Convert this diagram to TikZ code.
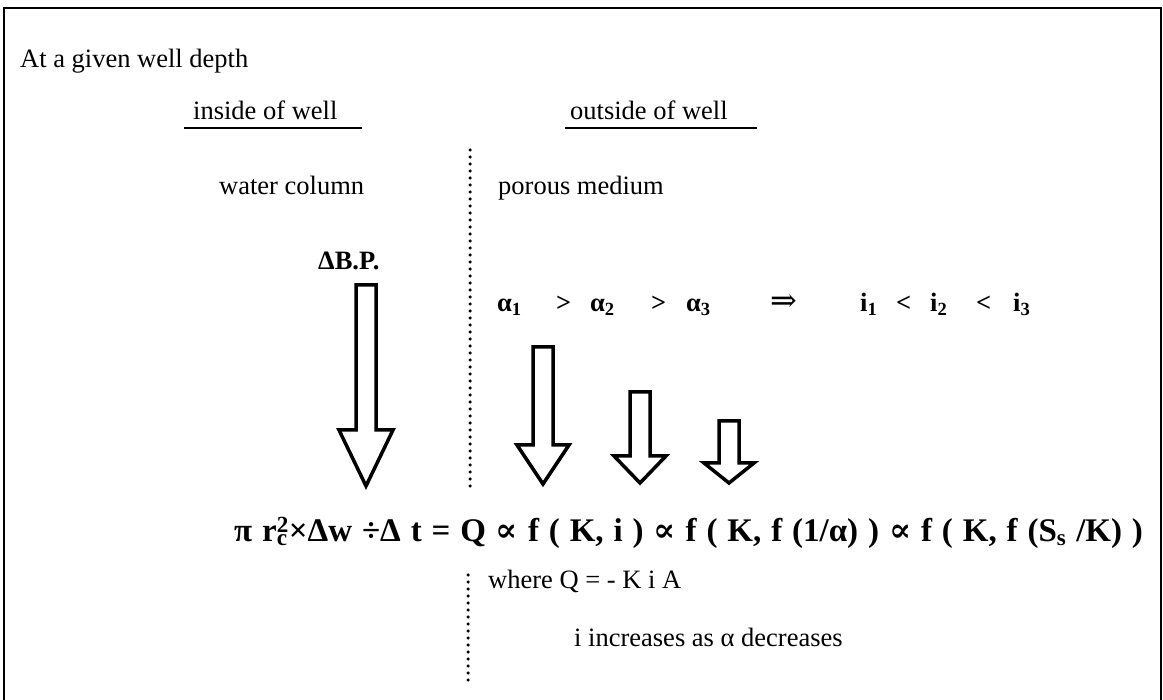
\documentclass[tikz,border=0pt]{standalone}
\usepackage{fontspec}
\setmainfont{Liberation Serif}
\newfontfamily\symf{DejaVu Serif}
\newcommand\eqfont{\fontsize{33}{36}\selectfont\bfseries\spaceskip=0.3em\relax}
\begin{document}
\begin{tikzpicture}[x=1pt,y=-1pt,
  txt/.style={inner sep=0pt, anchor=base west, font=\fontsize{26.5}{30}\selectfont},
  btxt/.style={txt, font=\fontsize{26.5}{30}\selectfont\bfseries},
  eqtxt/.style={inner sep=0pt, anchor=base west},
  frame/.style={line width=2.5pt},
  uline/.style={line width=1.5pt},
  dotline/.style={line width=3.5pt, line cap=round, dash pattern=on 0pt off 7pt},
  blockarrow/.style={draw, line width=3.5pt, line join=miter, fill=white}]
\useasboundingbox (0,0) rectangle (1163,700);
% frame
\draw[frame] (4,702) -- (4,8) -- (1161,8) -- (1161,702);
% texts
\node[txt] (title) at (20,68) {At a given well depth};
\node[txt] (inside) at (193,120) {inside of well};
\node[txt] (outside) at (570,120) {outside of well};
\coordinate (ul1a) at (184,128); \coordinate (ul1b) at (362,128);
\coordinate (ul2a) at (565,128); \coordinate (ul2b) at (757,128);
\draw[uline] (ul1a) -- (ul1b);
\draw[uline] (ul2a) -- (ul2b);
\node[txt] (water) at (219,195) {water column};
\node[txt] (porous) at (498,195) {porous medium};
\node[btxt] (bp) at (318,270) {ΔB.P.};
% alpha row
\node[btxt] (a1) at (497,312) {α\textsubscript{1}};
\node[btxt] (g1) at (556,312) {>};
\node[btxt] (a2) at (590,312) {α\textsubscript{2}};
\node[btxt] (g2) at (651,312) {>};
\node[btxt] (a3) at (686,312) {α\textsubscript{3}};
\node[txt, font=\fontsize{32}{34}\selectfont] (impl) at (770,312) {{\symf ⇒}};
\node[btxt] (i1) at (860,312) {i\textsubscript{1}};
\node[btxt] (l1) at (896,312) {<};
\node[btxt] (i2) at (930,312) {i\textsubscript{2}};
\node[btxt] (l2) at (976,312) {<};
\node[btxt] (i3) at (1013,312) {i\textsubscript{3}};
% dotted divider
\coordinate (d1a) at (470,150); \coordinate (d1b) at (470,492);
\coordinate (d2a) at (468,575); \coordinate (d2b) at (468,684);
\draw[dotline] (d1a) -- (d1b);
\draw[dotline] (d2a) -- (d2b);
% block arrows
\draw[blockarrow] (356,285) -- (376,285) -- (376,430) -- (393,430) -- (366,486) -- (339,430) -- (356,430) -- cycle;
\draw[blockarrow] (533,347) -- (553,347) -- (553,445) -- (569,445) -- (543,484) -- (517,445) -- (533,445) -- cycle;
\draw[blockarrow] (630,392) -- (650,392) -- (650,456) -- (666,456) -- (640,483) -- (614,456) -- (630,456) -- cycle;
\draw[blockarrow] (719,421) -- (739,421) -- (739,463) -- (754,463) -- (729,483) -- (704,463) -- (719,463) -- cycle;
% equation
\node[eqtxt] (eq) at (234,542) {\eqfont π r\rlap{\textsubscript{c}}\textsuperscript{2}×Δw ÷Δ t = Q {\symf ∝} f ( K, i ) {\symf ∝} f ( K, f (1/α) ) {\symf ∝} f ( K, f (S\textsubscript{s} /K) )};
\node[txt] (where) at (488,588) {where Q = - K i A};
\node[txt] (incr) at (574,646) {i increases as α decreases};
\end{tikzpicture}
\end{document}
